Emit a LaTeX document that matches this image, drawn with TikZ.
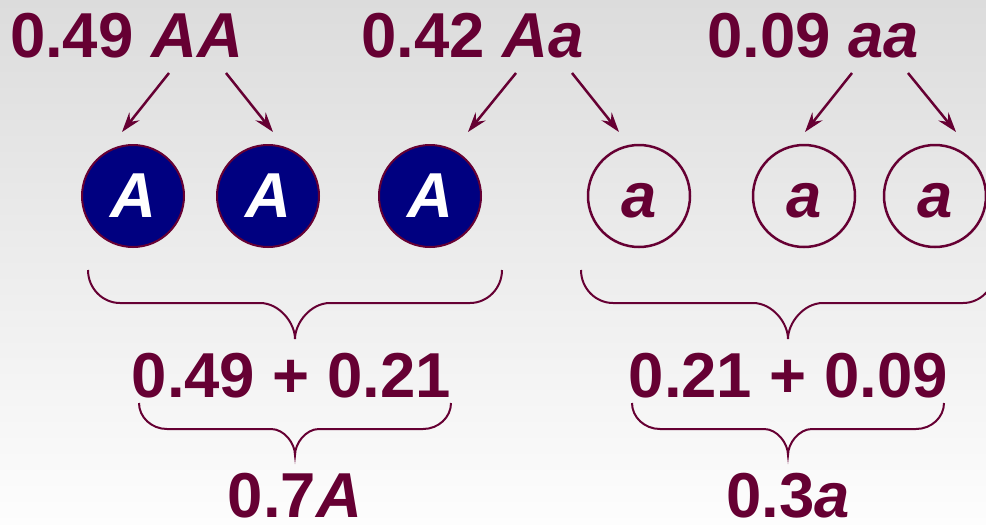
\documentclass[tikz,border=0pt]{standalone}
\usepackage{fontspec}
\setmainfont{Liberation Sans}
\usetikzlibrary{arrows.meta}

\definecolor{wine}{HTML}{660033}
\definecolor{navyfill}{HTML}{000080}
\definecolor{bgtop}{HTML}{DCDCDC}
\definecolor{bgbottom}{HTML}{FDFDFD}

\newcommand\bigfont{\fontsize{63.5}{70}\selectfont\bfseries}

\tikzset{
  label text/.style={text=wine, font=\bigfont, inner sep=0pt, anchor=base},
  allele/.style={circle, minimum size=102pt, inner sep=0pt,
    text height=42pt, text depth=0pt, font=\bigfont\itshape},
  allele A/.style={allele, fill=navyfill, draw=wine, line width=2pt, text=white},
  allele a/.style={allele, draw=wine, line width=2.5pt, text=wine},
  split/.style={draw=wine, line width=2.5pt,
    -{Stealth[length=20pt,width=13pt,inset=7pt]}},
  bracket/.style={draw=wine, line width=2pt},
}

% Horizontal curly brace opening upwards.
% #1 left x, #2 right x, #3 top y, #4 bar y, #5 tip y,
% #6 end radius, #7 half width of the middle bend
\newcommand\groupbrace[7]{%
  \pgfmathsetmacro\bm{(#1+#2)/2}%
  \draw[bracket] (#1,#3)
    .. controls (#1,{#4-0.45*(#4-#3)}) and ({#1+0.45*#6},#4) .. ({#1+#6},#4)
    -- ({\bm-#7},#4)
    .. controls ({\bm-0.45*#7},#4) and (\bm,{#4+0.55*(#5-#4)}) .. (\bm,#5)
    .. controls (\bm,{#4+0.55*(#5-#4)}) and ({\bm+0.45*#7},#4) .. ({\bm+#7},#4)
    -- ({#2-#6},#4)
    .. controls ({#2-0.45*#6},#4) and (#2,{#4-0.45*(#4-#3)}) .. (#2,#3);
}

\begin{document}
\begin{tikzpicture}[x=1pt, y=-1pt]
  \useasboundingbox (0,0) rectangle (986,525);
  \shade[top color=bgtop, bottom color=bgbottom] (0,0) rectangle (986,525);

  % genotype frequencies
  \node[label text] (gAA) at (126.5,57) {0.49 \textit{AA}};
  \node[label text] (gAa) at (472.5,57) {0.42 \textit{Aa}};
  \node[label text] (gaa) at (813,57) {0.09 \textit{aa}};

  % alleles
  \node[allele A] (c1) at (133,196) {A};
  \node[allele A] (c2) at (268,196) {A};
  \node[allele A] (c3) at (430,196) {A};
  \node[allele a] (c4) at (639,196) {a};
  \node[allele a] (c5) at (804,196) {a};
  \node[allele a] (c6) at (935,196) {a};

  % arrow end points
  \coordinate (s1) at (169,73);  \coordinate (e1) at (122,132);
  \coordinate (s2) at (226,73);  \coordinate (e2) at (273,132);
  \coordinate (s3) at (516,73);  \coordinate (e3) at (468,132);
  \coordinate (s4) at (572,73);  \coordinate (e4) at (619,132);
  \coordinate (s5) at (852,73);  \coordinate (e5) at (805,132);
  \coordinate (s6) at (908,73);  \coordinate (e6) at (956,132);

  \draw[split] (s1) -- (e1);
  \draw[split] (s2) -- (e2);
  \draw[split] (s3) -- (e3);
  \draw[split] (s4) -- (e4);
  \draw[split] (s5) -- (e5);
  \draw[split] (s6) -- (e6);

  % grouping braces
  \groupbrace{88}{502}{270}{303}{339}{32}{35}
  \groupbrace{581}{995}{270}{303}{339}{32}{35}
  \groupbrace{139}{451}{403}{429}{455}{28}{24}
  \groupbrace{632}{944}{403}{429}{455}{28}{24}

  % sums and allele frequencies
  \node[label text] (sumA) at (291.5,397) {0.49 + 0.21};
  \node[label text] (suma) at (788.5,397) {0.21 + 0.09};
  \node[label text] (pA) at (295,517) {0.7\textit{A}};
  \node[label text] (pa) at (788,517) {0.3\textit{a}};
\end{tikzpicture}
\end{document}
